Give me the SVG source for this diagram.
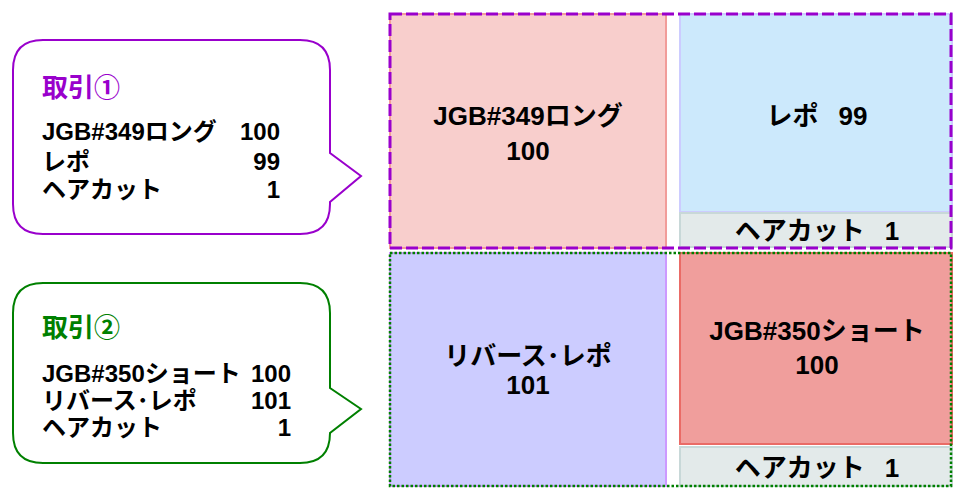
<svg xmlns="http://www.w3.org/2000/svg" width="953" height="488" viewBox="0 0 953 488">
<style>
text{font-family:"Liberation Sans","Noto Sans CJK JP",sans-serif;font-weight:bold;fill:#000}
.ct{font-size:24px}
.tt{font-size:26px}
.bt{font-size:26px;text-anchor:middle}
.r{text-anchor:end}
.gray{fill:#e3eaea;stroke:#c8d8d8;stroke-width:2}
</style>
<g id="callout1">
<path d="M43,40 H300 Q330,40 330,70 V153 L361,176 L330,202 V204 Q330,234 300,234 H43 Q13,234 13,204 V70 Q13,40 43,40 Z" fill="#fff" stroke="#9900cc" stroke-width="2"/>
<text x="42" y="97" class="tt" style="fill:#9900cc">取引①</text>
<text x="42" y="140" class="ct">JGB#349ロング</text>
<text x="280" y="140" class="ct r">100</text>
<text x="42" y="170" class="ct">レポ</text>
<text x="280" y="170" class="ct r">99</text>
<text x="42" y="198" class="ct">ヘアカット</text>
<text x="280" y="198" class="ct r">1</text>
</g>
<g id="callout2">
<path d="M43,283 H300 Q330,283 330,313 V388 L361,409 L330,433 V433 Q330,463 300,463 H43 Q13,463 13,433 V313 Q13,283 43,283 Z" fill="#fff" stroke="#008000" stroke-width="2"/>
<text x="42" y="337" class="tt" style="fill:#008000">取引②</text>
<text x="42" y="382" class="ct">JGB#350ショート</text>
<text x="291" y="382" class="ct r">100</text>
<text x="42" y="409" class="ct">リバース･レポ</text>
<text x="291" y="409" class="ct r">101</text>
<text x="42" y="436" class="ct">ヘアカット</text>
<text x="291" y="436" class="ct r">1</text>
</g>
<g id="long349">
<rect x="390" y="14" width="276" height="234" fill="#f8cecc" stroke="#f19c99" stroke-width="2"/>
<text x="528" y="125" class="bt">JGB#349ロング</text>
<text x="528" y="160" class="bt">100</text>
</g>
<g id="repo99">
<rect x="680" y="14" width="272" height="198" fill="#cce9fc" stroke="#ccccff" stroke-width="2"/>
<text x="817" y="125" class="bt"><tspan>レポ</tspan><tspan dx="20">99</tspan></text>
</g>
<g id="haircut1">
<rect x="680" y="213" width="272" height="34" class="gray"/>
<text x="817" y="240" class="bt"><tspan>ヘアカット</tspan><tspan dx="20">1</tspan></text>
</g>
<g id="revrepo">
<rect x="390" y="253" width="276" height="233" fill="#ccccff" stroke="#cc99ff" stroke-width="2"/>
<text x="528" y="365" class="bt">リバース･レポ</text>
<text x="528" y="394" class="bt">101</text>
</g>
<g id="short350">
<rect x="680" y="253" width="272" height="191" fill="#f09e9c" stroke="#ea6b66" stroke-width="2"/>
<text x="817" y="340" class="bt">JGB#350ショート</text>
<text x="817" y="374" class="bt">100</text>
</g>
<g id="haircut2">
<rect x="680" y="447" width="272" height="39" class="gray"/>
<text x="817" y="477" class="bt"><tspan>ヘアカット</tspan><tspan dx="20">1</tspan></text>
</g>
<g id="connectors">
<rect x="390" y="14" width="561" height="234" fill="none" stroke="#9900cc" stroke-width="3" stroke-dasharray="12 4"/>
<rect x="390" y="253" width="561" height="233" fill="none" stroke="#007f00" stroke-width="2.5" stroke-dasharray="2.5 2"/>
</g>
</svg>
